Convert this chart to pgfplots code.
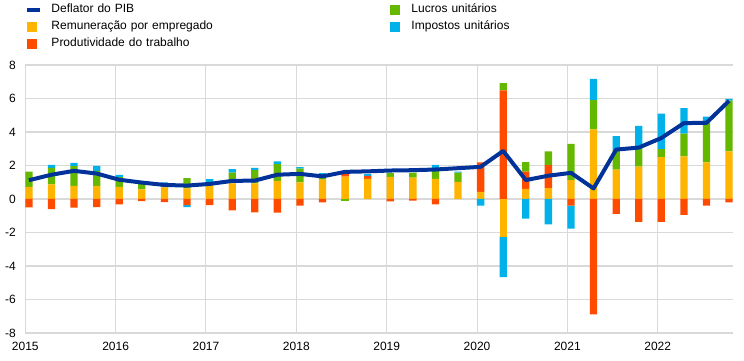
\documentclass[border=0pt]{standalone}
\usepackage{pgfplots}
\pgfplotsset{compat=1.18}
\usepackage{pgfplotstable}
\usepackage{fontspec}
\setmainfont{Liberation Sans}
\definecolor{cL}{HTML}{003299}
\definecolor{cY}{HTML}{FFB400}
\definecolor{cR}{HTML}{FF4B00}
\definecolor{cG}{HTML}{65B800}
\definecolor{cB}{HTML}{00B1EA}
\definecolor{cGrid}{HTML}{D9D9D9}

% Y = Remuneracao por empregado, R = Produtividade do trabalho,
% G = Lucros unitarios, B = Impostos unitarios, L = Deflator do PIB
\pgfplotstableread{
x        Y      R      G      B      L
2015.04  0.72  -0.50   0.92   0.00   1.12
2015.29  0.88  -0.60   0.98   0.18   1.45
2015.54  0.78  -0.52   1.18   0.20   1.68
2015.79  0.78  -0.48   0.90   0.30   1.52
2016.04  0.72  -0.32   0.58   0.14   1.15
2016.29  0.58  -0.12   0.36   0.00   0.98
2016.54  0.70  -0.18   0.25   0.04   0.84
2016.79  0.64  -0.36   0.60  -0.12   0.80
2017.04  0.98  -0.36   0.00   0.20   0.90
2017.29  0.94  -0.68   0.64   0.20   1.08
2017.54  0.94  -0.80   0.78   0.14   1.10
2017.79  1.08  -0.82   1.00   0.16   1.45
2018.04  1.00  -0.40   0.82   0.08   1.50
2018.29  1.16  -0.20   0.28   0.10   1.35
2018.54  1.34   0.14  -0.12   0.00   1.62
2018.79  1.20   0.18   0.00   0.10   1.65
2019.04  1.32  -0.14   0.22   0.00   1.70
2019.29  1.28  -0.10   0.30   0.00   1.72
2019.54  1.20  -0.32   0.55   0.28   1.76
2019.79  1.02   0.00   0.56   0.06   1.84
2020.04  0.42   1.76   0.00  -0.40   1.92
2020.29 -2.24   6.48   0.44  -2.42   2.87
2020.54  0.60   1.03   0.57  -1.17   1.13
2020.79  0.65   1.37   0.83  -1.52   1.39
2021.04  1.13  -0.40   2.16  -1.37   1.56
2021.29  4.16  -6.89   1.74   1.27   0.63
2021.54  1.76  -0.89   1.15   0.85   2.95
2021.79  1.94  -1.37   1.07   1.35   3.07
2022.04  2.50  -1.37   0.48   2.12   3.64
2022.29  2.55  -0.95   1.35   1.52   4.53
2022.54  2.18  -0.40   2.38   0.36   4.55
2022.79  2.85  -0.20   3.03   0.10   5.86
}\data

\pgfplotsset{
  base/.style={at={(0pt,0pt)}, anchor=south west, scale only axis,
    width=707.4pt, height=268pt,
    xmin=2015, xmax=2022.83, ymin=-8, ymax=8},
}

\begin{document}
\begin{tikzpicture}
\path[use as bounding box] (-25.3pt,-28pt) rectangle (718.7pt,333pt);
\begin{axis}[base,
  ybar stacked, bar width=7.3pt,
  xtick={2015,2016,2017,2018,2019,2020,2021,2022},
  xticklabels={2015,2016,2017,2018,2019,2020,2021,2022},
  ytick={-8,-6,-4,-2,0,2,4,6,8},
  yticklabels={-8,-6,-4,-2,0,2,4,6,8},
  major tick length=0pt,
  xmajorgrids, ymajorgrids,
  x grid style={cGrid, line width=1pt},
  y grid style={cGrid, line width=1.3pt},
  axis line style={draw=none},
  tick label style={font=\fontsize{12}{14}\selectfont},
  yticklabel style={xshift=-6pt},
  xticklabel style={yshift=-5.7pt},
  legend columns=2,
  legend cell align=left,
  legend style={at={(0,1)}, anchor=north west, yshift=61.7pt,
    draw=none, fill=none, inner sep=0pt, row sep=5pt,
    font=\fontsize{12}{14}\selectfont,
    nodes={inner sep=0pt, text height=9pt, text depth=3pt, text width=338pt},
    /tikz/every odd column/.style={column sep=9pt}},
]
\addlegendimage{legend image code/.code={\draw[cL, line width=4pt] (0pt,0pt) -- (13pt,0pt);}}
\addlegendentry{Deflator do PIB}
\addlegendimage{legend image code/.code={\fill[cG, draw=none] (0pt,-5pt) rectangle (10pt,5pt); \path[draw=none, fill=none] (0pt,-5pt) rectangle (13pt,5pt);}}
\addlegendentry{Lucros unitários}
\addlegendimage{legend image code/.code={\fill[cY, draw=none] (0pt,-5pt) rectangle (10pt,5pt); \path[draw=none, fill=none] (0pt,-5pt) rectangle (13pt,5pt);}}
\addlegendentry{Remuneração por empregado}
\addlegendimage{legend image code/.code={\fill[cB, draw=none] (0pt,-5pt) rectangle (10pt,5pt); \path[draw=none, fill=none] (0pt,-5pt) rectangle (13pt,5pt);}}
\addlegendentry{Impostos unitários}
\addlegendimage{legend image code/.code={\fill[cR, draw=none] (0pt,-5pt) rectangle (10pt,5pt); \path[draw=none, fill=none] (0pt,-5pt) rectangle (13pt,5pt);}}
\addlegendentry{Produtividade do trabalho}
\addplot[forget plot, fill=cY, draw=none] table[x=x, y expr={max(\thisrow{Y},0)}]{\data};
\addplot[forget plot, fill=cR, draw=none] table[x=x, y expr={max(\thisrow{R},0)}]{\data};
\addplot[forget plot, fill=cG, draw=none] table[x=x, y expr={max(\thisrow{G},0)}]{\data};
\addplot[forget plot, fill=cB, draw=none] table[x=x, y expr={max(\thisrow{B},0)}]{\data};
\end{axis}
\begin{axis}[base, hide axis, ybar stacked, bar width=7.3pt]
\addplot[fill=cY, draw=none] table[x=x, y expr={min(\thisrow{Y},0)}]{\data};
\addplot[fill=cR, draw=none] table[x=x, y expr={min(\thisrow{R},0)}]{\data};
\addplot[fill=cG, draw=none] table[x=x, y expr={min(\thisrow{G},0)}]{\data};
\addplot[fill=cB, draw=none] table[x=x, y expr={min(\thisrow{B},0)}]{\data};
\end{axis}
\begin{axis}[base, hide axis]
\addplot[cL, line width=4pt, line join=round, mark=none] table[x=x, y=L]{\data};
\end{axis}
\end{tikzpicture}
\end{document}
